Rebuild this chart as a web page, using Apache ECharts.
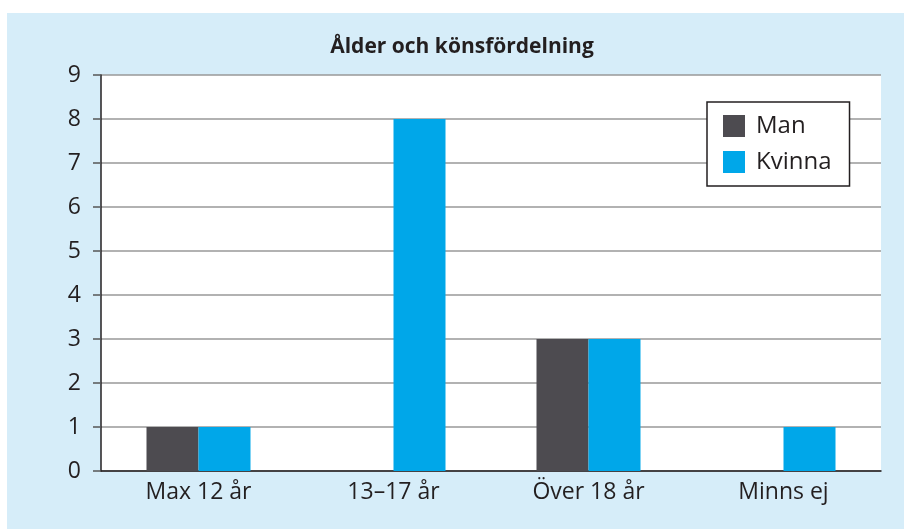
<!DOCTYPE html>
<html>
<head>
<meta charset="utf-8">
<script src="https://cdn.jsdelivr.net/npm/echarts@6/dist/echarts.min.js"></script>
<style>
  html, body { margin: 0; padding: 0; background: #fff; }
  #panel { position: absolute; left: 7px; top: 13px; width: 897px; height: 516px; background: #d6edf9; }
  #main { position: absolute; left: 0; top: 0; width: 904px; height: 529px; }
</style>
</head>
<body>
<div id="panel"></div>
<div id="main"></div>
<script>
// kategorier och värden
var categories = ['Max 12 år', '13–17 år', 'Över 18 år', 'Minns ej'];
var manValues = [1, 0, 3, 0];
var kvinnaValues = [1, 8, 3, 1];
var seriesNames = ['Man', 'Kvinna'];

var textColor = '#231f20';
var fontName = '"Open Sans", "Noto Sans", sans-serif';

var chart = echarts.init(document.getElementById('main'));
chart.setOption({
	backgroundColor: 'transparent',
	textStyle: { fontFamily: fontName, color: textColor },
	title: {
		text: 'Ålder och könsfördelning',
		left: 457,
		top: 32,
		textAlign: 'center',
		textStyle: { fontSize: 21, fontWeight: 'bold', color: textColor, fontFamily: fontName }
	},
	legend: {
		orient: 'vertical',
		left: 707,
		top: 102,
		padding: [12, 18, 12, 16],
		itemWidth: 22,
		itemHeight: 22,
		itemGap: 12,
		backgroundColor: '#fff',
		borderColor: textColor,
		borderWidth: 1.5,
		borderRadius: 0,
		icon: 'rect',
		textStyle: { fontSize: 24, color: textColor, fontFamily: fontName, padding: [0, 0, 0, 6] },
		data: seriesNames
	},
	grid: {
		left: 101,
		right: 23,
		top: 75,
		bottom: 58,
		show: true,
		backgroundColor: '#fff',
		borderWidth: 0
	},
	xAxis: {
		type: 'category',
		data: categories,
		axisLine: { lineStyle: { color: textColor, width: 1.5 } },
		axisTick: { show: false },
		axisLabel: { fontSize: 23, color: textColor, margin: 10, fontFamily: fontName }
	},
	yAxis: {
		type: 'value',
		min: 0,
		max: 9,
		interval: 1,
		axisLine: { show: true, lineStyle: { color: textColor, width: 1.5 } },
		axisTick: { show: true, length: 8, lineStyle: { color: '#555', width: 1.5 } },
		axisLabel: { fontSize: 23, color: textColor, margin: 20, fontFamily: fontName },
		splitLine: { lineStyle: { color: '#999', width: 1.5 } }
	},
	series: [
		{
			name: seriesNames[0],
			type: 'bar',
			data: manValues,
			barWidth: 52,
			barGap: '0%',
			itemStyle: { color: '#4d4b50' }
		},
		{
			name: seriesNames[1],
			type: 'bar',
			data: kvinnaValues,
			barWidth: 52,
			barGap: '0%',
			itemStyle: { color: '#00a7e9' }
		}
	]
});
</script>
</body>
</html>
